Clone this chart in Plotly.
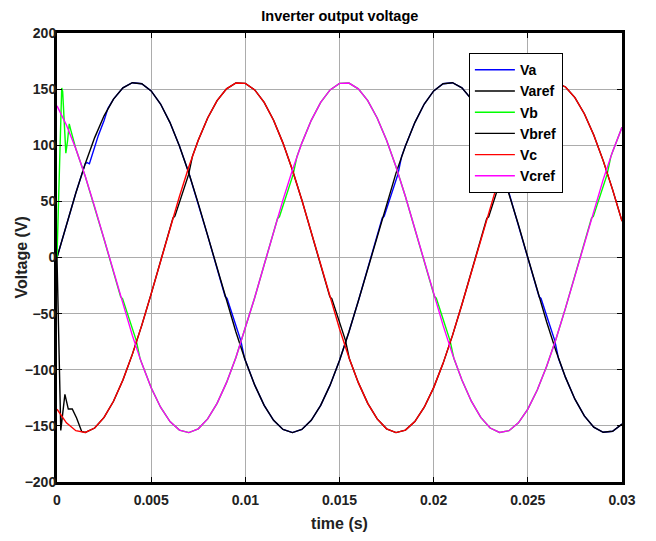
import plotly.graph_objects as go

# time grid (s), 0.0005 s spacing
T = [round(i * 0.0005, 4) for i in range(61)]

# reference waveforms (V)
VA_REF = [0, 29.2, 57.4, 83.6, 106.8, 126.2, 141.1, 151.1, 155.7, 154.8,
          148.4, 136.7, 120.2, 99.4, 75.2, 48.2, 19.5, -9.8, -38.8, -66.4,
          -91.7, -113.7, -131.7, -145.0, -153.2, -156.0, -153.2, -145.0, -131.7, -113.7,
          -91.7, -66.4, -38.8, -9.8, 19.5, 48.2, 75.2, 99.4, 120.2, 136.7,
          148.4, 154.8, 155.7, 151.1, 141.1, 126.2, 106.8, 83.6, 57.4, 29.2,
          0, -29.2, -57.4, -83.6, -106.8, -126.2, -141.1, -151.1, -155.7, -154.8,
          -148.4]
VC_REF = [-135.1, -147.3, -154.3, -155.9, -151.9, -142.5, -128.1, -109.2, -86.3, -60.5,
          -32.4, -3.3, 26.0, 54.4, 80.8, 104.4, 124.3, 139.7, 150.3, 155.5,
          155.1, 149.3, 138.2, 122.3, 101.9, 78.0, 51.3, 22.8, -6.5, -35.6,
          -63.4, -89.0, -111.5, -129.9, -143.8, -152.6, -156.0, -153.8, -146.2, -133.4,
          -115.9, -94.3, -69.4, -41.9, -13.1, 16.3, 45.1, 72.3, 96.9, 118.1,
          135.1, 147.3, 154.3, 155.9, 151.9, 142.5, 128.1, 109.2, 86.3, 60.5,
          32.4]
VM_REF = [135.1, 118.1, 96.9, 72.3, 45.1, 16.3, -13.0, -41.9, -69.4, -94.3,
          -116.0, -133.4, -146.2, -153.8, -156.0, -152.6, -143.8, -129.9, -111.5, -89.1,
          -63.4, -35.6, -6.5, 22.7, 51.3, 78.0, 101.9, 122.2, 138.2, 149.3,
          155.1, 155.4, 150.3, 139.7, 124.3, 104.4, 80.8, 54.4, 26.0, -3.3,
          -32.5, -60.5, -86.3, -109.2, -128.0, -142.5, -151.9, -155.9, -154.3, -147.3,
          -135.1, -118.1, -96.9, -72.3, -45.1, -16.3, 13.0, 41.9, 69.4, 94.3,
          116.0]

# measured deviations of the inverter outputs from the references: (t, v) segments
VA_DEV = [
    [(0.0015, 83.6), (0.0016, 84.5), (0.00172, 83.5), (0.0019, 93.5), (0.0022, 109.0), (0.0025, 122.0), (0.0027, 132.7)],
    [(0.00893, -34.8), (0.00903, -36.5), (0.00976, -74.0), (0.00996, -89.8)],
    [(0.01727, 35.2), (0.01737, 36.7), (0.0181, 74.0), (0.0183, 90.1)],
    [(0.0256, -35.0), (0.0257, -36.5), (0.02643, -74.0), (0.02663, -90.0)],
]
VB_DEV = [
    [(0.0, 0.0), (0.0001, 55.0), (0.00018, 115.0), (0.00025, 151.0), (0.0003, 148.0), (0.00038, 118.0),
     (0.00047, 93.0), (0.00056, 104.0), (0.00065, 119.0), (0.00074, 113.0), (0.00085, 105.0)],
    [(0.00338, -35.1), (0.00348, -36.6), (0.00421, -74.0), (0.00441, -90.1)],
    [(0.01171, 34.8), (0.01181, 36.3), (0.01254, 74.0), (0.01274, 89.9)],
    [(0.02004, -34.8), (0.02014, -36.3), (0.02087, -74.0), (0.02107, -89.7)],
    [(0.02838, 35.1), (0.02848, 36.6), (0.02921, 74.0), (0.02941, 90.1)],
]
VBREF_DEV = [
    [(0.0, 0.0), (0.0002, -154.0), (0.00042, -122.0), (0.0006, -135.0), (0.00081, -135.0),
     (0.00104, -143.0), (0.00131, -155.0), (0.0015, -155.9)],
    [(0.00616, 35.3), (0.00626, 36.8), (0.00699, 74.0), (0.00719, 90.1)],
    [(0.01449, -35.1), (0.01459, -36.6), (0.01532, -74.0), (0.01552, -90.0)],
    [(0.02282, 34.8), (0.02292, 36.3), (0.02365, 74.0), (0.02385, 89.8)],
]

NAMES = ["Va", "Varef", "Vb", "Vbref", "Vc", "Vcref"]
COLORS = ["#0000ff", "#000000", "#00ff00", "#000000", "#ff0000", "#ff00ff"]
XTICKS = [0, 0.005, 0.01, 0.015, 0.02, 0.025, 0.03]
XTICKTEXT = ["0", "0.005", "0.01", "0.015", "0.02", "0.025", "0.03"]
YTICKS = list(range(-200, 201, 50))


def merge(base, segs):
    pts = []
    for t, v in zip(T, base):
        if not any(s[0][0] <= t <= s[-1][0] for s in segs):
            pts.append((t, v))
    for s in segs:
        pts.extend(s)
    pts.sort()
    return [p[0] for p in pts], [p[1] for p in pts]


series = [
    merge(VA_REF, VA_DEV),
    (T, VA_REF),
    merge(VM_REF, VB_DEV),
    merge(VC_REF, VBREF_DEV),
    (T, VC_REF),
    (T, VM_REF),
]

FONT = "Liberation Sans, Arial, sans-serif"

fig = go.Figure()
for name, col, (x, y) in zip(NAMES, COLORS, series):
    fig.add_trace(go.Scatter(x=x, y=y, mode="lines", name=name,
                             line=dict(color=col, width=1.4)))

axis_common = dict(
    showline=True, linecolor="black", linewidth=3, mirror="ticks",
    ticks="inside", ticklen=5, tickcolor="black", tickwidth=1,
    showgrid=True, gridcolor="#acacac", gridwidth=1, zeroline=False,
    tickfont=dict(family=FONT, size=14, color="#222", weight="bold"),
)

fig.update_xaxes(range=[0, 0.03], tickmode="array",
                 tickvals=XTICKS, ticktext=XTICKTEXT, ticklabelstandoff=3,
                 title=dict(text="time (s)", standoff=12,
                            font=dict(family=FONT, size=16, color="#222", weight="bold")),
                 **axis_common)
fig.update_yaxes(range=[-200, 200], tickmode="array",
                 tickvals=YTICKS, ticklabelstandoff=-5,
                 **axis_common)

fig.update_layout(
    width=656, height=541,
    margin=dict(l=57, r=34, t=33, b=59, autoexpand=False),
    paper_bgcolor="white", plot_bgcolor="white",
    title=dict(text="Inverter output voltage", x=0.518, xanchor="center", y=0.97, yanchor="middle",
               font=dict(family=FONT, size=14.5, color="black", weight="bold")),
    legend=dict(x=0.729, y=0.955, xanchor="left", yanchor="top",
                bgcolor="white", bordercolor="black", borderwidth=1,
                font=dict(family=FONT, size=14, color="black", weight="bold"),
                itemwidth=40, tracegroupgap=0),
    annotations=[dict(text="Voltage (V)", xref="paper", yref="paper", x=-0.062, y=0.5,
                      xanchor="center", yanchor="middle", textangle=-90, showarrow=False,
                      font=dict(family=FONT, size=16, color="#222", weight="bold"))],
    showlegend=True,
)

fig.write_html("out.html")
